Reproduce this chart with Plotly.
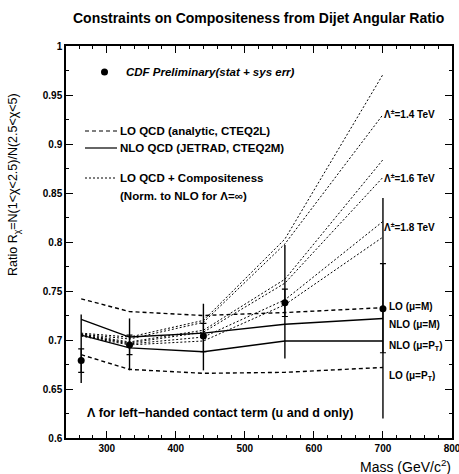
import plotly.graph_objects as go

# ---- data ----
mass = [263, 333, 440, 558, 700]

data_y = [0.679, 0.695, 0.704, 0.738, 0.732]
tot_up = [0.047, 0.027, 0.033, 0.059, 0.113]
tot_dn = [0.023, 0.026, 0.035, 0.057, 0.112]
stat_up = [0.012, 0.010, 0.013, 0.014, 0.046]
stat_dn = [0.012, 0.010, 0.016, 0.014, 0.045]

lo_M = [0.742, 0.729, 0.725, 0.728, 0.733]
lo_PT = [0.685, 0.670, 0.666, 0.667, 0.672]
nlo_M = [0.721, 0.703, 0.707, 0.716, 0.722]
nlo_PT = [0.705, 0.692, 0.688, 0.699, 0.699]

comp = {
    "1.4+": [0.707, 0.703, 0.720, 0.803, 0.971],
    "1.4-": [0.706, 0.701, 0.718, 0.798, 0.930],
    "1.6+": [0.706, 0.698, 0.710, 0.762, 0.884],
    "1.6-": [0.705, 0.697, 0.708, 0.758, 0.866],
    "1.8+": [0.705, 0.696, 0.703, 0.741, 0.821],
    "1.8-": [0.704, 0.695, 0.699, 0.736, 0.805],
}

FONT = "Liberation Sans"
DASH = "4px,3px"
DOT = "2px,2px"
fig = go.Figure()

for name, ys in comp.items():
    fig.add_trace(go.Scatter(x=mass, y=ys, mode="lines",
                             line=dict(color="black", width=1, dash=DOT)))

for ys, d in [(lo_M, DASH), (lo_PT, DASH), (nlo_M, "solid"), (nlo_PT, "solid")]:
    fig.add_trace(go.Scatter(x=mass, y=ys, mode="lines",
                             line=dict(color="black", width=1.4, dash=d)))

# total errors
fig.add_trace(go.Scatter(x=mass, y=data_y, mode="markers",
                         marker=dict(color="black", size=1),
                         error_y=dict(type="data", symmetric=False, array=tot_up,
                                      arrayminus=tot_dn, color="black",
                                      thickness=1.4, width=0)))
# stat errors + points
fig.add_trace(go.Scatter(x=mass, y=data_y, mode="markers",
                         marker=dict(color="black", size=7, symbol="circle"),
                         error_y=dict(type="data", symmetric=False, array=stat_up,
                                      arrayminus=stat_dn, color="black",
                                      thickness=1.2, width=3)))

axis_common = dict(showline=True, linecolor="black", linewidth=1.5, mirror="allticks",
                   ticks="inside", ticklen=7, tickwidth=1.3, tickcolor="black",
                   showgrid=False, zeroline=False, automargin=False,
                   ticklabeloverflow="allow",
                   tickfont=dict(family=FONT, size=10, color="black", weight="bold"))

fig.update_xaxes(range=[241, 800], dtick=100, tick0=0,
                 minor=dict(dtick=20, ticks="inside", ticklen=3, tickcolor="black"),
                 **axis_common)
fig.update_yaxes(range=[0.6, 1.0], dtick=0.05, tick0=0,
                 minor=dict(dtick=0.025, ticks="inside", ticklen=3, tickcolor="black"),
                 **axis_common)

def px(x):
    return (x - 66) / 386.0

def py(y):
    return (438 - y) / 392.0

ann = []
def T(text, x, y, size=10.5, xanchor="left", italic=False, bold=True, **kw):
    ann.append(dict(text=text, x=px(x), y=py(y), xref="paper", yref="paper",
                    xanchor=xanchor, yanchor="middle", showarrow=False,
                    font=dict(family=FONT, size=size, color="black",
                              weight="bold" if bold else "normal",
                              style="italic" if italic else "normal"), **kw))

T("Constraints on Compositeness from Dijet Angular Ratio", 258, 18, size=14, xanchor="center")
T("CDF Preliminary(stat + sys err)", 124, 72, size=11.5, italic=True)
T("LO QCD (analytic, CTEQ2L)", 118, 131, size=11.5)
T("NLO QCD (JETRAD, CTEQ2M)", 118, 148, size=11.5)
T("LO QCD + Compositeness", 118, 178, size=11.5)
T("(Norm. to NLO for Λ=∞)", 118, 196, size=11.5)
T("Λ<sup>±</sup>=1.4 TeV", 382, 114, size=10)
T("Λ<sup>±</sup>=1.6 TeV", 382, 178, size=10)
T("Λ<sup>±</sup>=1.8 TeV", 382, 227, size=10)
T("LO (μ=M)", 387, 306, size=10)
T("NLO (μ=M)", 387, 324, size=10)
T("NLO (μ=P<sub>T</sub>)", 387, 346, size=10)
T("LO (μ=P<sub>T</sub>)", 387, 376, size=10)
T("Λ for left−handed contact term (u and d only)", 85, 413, size=12.5)
T("Mass (GeV/c<sup>2</sup>)", 453, 466, size=14, xanchor="right", bold=False)
ann.append(dict(text="Ratio R<sub>χ</sub>=N(1&lt;χ&lt;2.5)/N(2.5&lt;χ&lt;5)",
                x=px(14), y=py(185), xref="paper", yref="paper", textangle=-90,
                xanchor="center", yanchor="middle", showarrow=False,
                font=dict(family=FONT, size=12.5, color="black")))

shapes = []
for yy, d in [(131, DASH), (148, "solid"), (178, DOT)]:
    shapes.append(dict(type="line", xref="paper", yref="paper",
                       x0=px(85), x1=px(117), y0=py(yy), y1=py(yy),
                       line=dict(color="black", width=1.2 if d != DOT else 1, dash=d)))
shapes.append(dict(type="circle", xref="paper", yref="paper",
                   x0=px(101), x1=px(108), y0=py(75.5), y1=py(68.5),
                   fillcolor="black", line=dict(color="black", width=0)))

fig.update_layout(width=459, height=474, margin=dict(l=66, r=7, t=46, b=36),
                  paper_bgcolor="white", plot_bgcolor="white", showlegend=False,
                  annotations=ann, shapes=shapes)

fig.write_html("out.html")
